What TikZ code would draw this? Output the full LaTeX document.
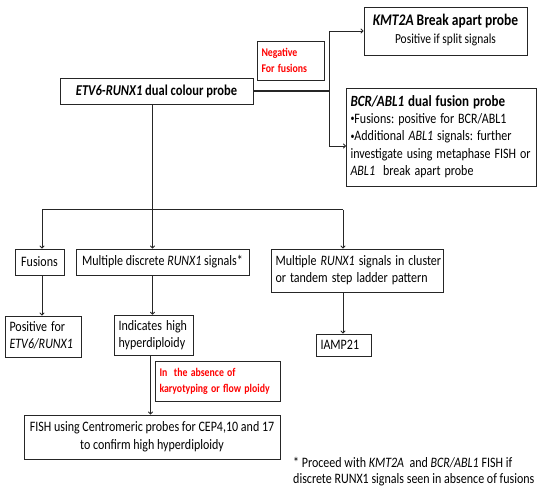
\documentclass[tikz,border=0pt]{standalone}
\usepackage{fontspec}
\usepackage{graphicx}
\setmainfont{Carlito}
\frenchspacing
\usetikzlibrary{arrows.meta}
\newcommand\vst[1]{\scalebox{1}[1.2]{#1}}
\newcommand\ltab[1]{\vst{\begin{tabular}{@{}l@{}}#1\end{tabular}}}
\newcommand\ctab[1]{\vst{\begin{tabular}{@{}c@{}}#1\end{tabular}}}
\newcommand\sbul{\raisebox{1.6pt}{\fontsize{8}{8}\selectfont\textbullet}}
\begin{document}
\begin{tikzpicture}[x=1pt,y=-1pt,
  box/.style={draw=black!85,line width=1pt,inner sep=3pt,font=\fontsize{12}{14.4}\selectfont},
  lbox/.style={box,align=left,inner xsep=4pt,text width=#1},
  redtxt/.style={text=red,font=\bfseries\fontsize{9.8}{13.5}\selectfont},
  conn/.style={line width=0.9pt,black!85},
  arr/.style={conn,-{To[length=3pt,width=5pt]}}]
\useasboundingbox (0,0) rectangle (538,488);
\node[box,minimum width=193pt,minimum height=26pt,font=\bfseries\fontsize{12.5}{15}\selectfont] (etv) at (156.5,91) {\vst{\textit{ETV6-RUNX1} dual colour probe}};
\node[box,minimum width=163pt,minimum height=48pt] (kmt) at (445.5,31) {\ctab{{\bfseries\fontsize{13.5}{14}\selectfont\textit{KMT2A} Break apart probe}\\[1pt]{\fontsize{11.5}{14}\selectfont Positive if split signals}}};
\node[lbox=59pt,minimum height=38pt,anchor=west,redtxt] (neg) at (257,61) {\ltab{Negative\\For fusions}};
\node[lbox=182pt,minimum height=98pt,anchor=north west] (bcr) at (346,88) {\ltab{{\bfseries\fontsize{13}{14}\selectfont\textit{BCR/ABL1} dual fusion probe}\\\sbul Fusions: positive for BCR/ABL1\\\sbul Additional \textit{ABL1} signals: further\\investigate using metaphase FISH or\\\textit{ABL1}~ break apart probe}};
\node[box,minimum width=49pt,minimum height=26pt] (fus) at (39.5,262) {\vst{Fusions}};
\node[box,minimum width=173pt,minimum height=26pt] (disc) at (162.5,262) {\vst{Multiple discrete \textit{RUNX1} signals*}};
\node[lbox=164pt,minimum height=43pt,anchor=west] (clus) at (271,270.5) {\ltab{Multiple \textit{RUNX1} signals in cluster\\or tandem step ladder pattern}};
\node[lbox=68pt,minimum height=41pt,anchor=west] (pos) at (5,336.5) {\ltab{Positive for\\\textit{ETV6/RUNX1}}};
\node[lbox=71pt,minimum height=39pt,anchor=west] (ind) at (114,335.5) {\ltab{Indicates high\\hyperdiploidy}};
\node[lbox=47pt,minimum height=22pt,anchor=west] (iamp) at (316,345) {\vst{IAMP21}};
\node[lbox=117pt,minimum height=40pt,anchor=west,redtxt] (abs) at (155,381) {\ltab{In~ the absence of\\karyotyping or flow ploidy}};
\node[box,minimum width=256pt,minimum height=44pt] (fish) at (152,437) {\ctab{FISH using Centromeric probes for CEP4,10 and 17\\to confirm high hyperdiploidy}};
\node[anchor=west,inner sep=0pt,font=\fontsize{12}{13.4}\selectfont] (note) at (293,472) {\ltab{* Proceed with \textit{KMT2A}~ and \textit{BCR/ABL1} FISH if\\discrete RUNX1 signals seen in absence of fusions}};
% connectors
\coordinate (j) at (329,91);
\coordinate (jt) at (329,31);
\coordinate (jb) at (329,146);
\draw[conn,line width=1.8pt] (etv.east |- j) -- (j);
\draw[conn] (jt) -- (jb);
\draw[arr] (jt) -- (kmt.west |- jt);
\draw[arr] (jb) -- (bcr.west |- jb);
\coordinate (b) at (152.5,209.5);
\coordinate (bl) at (42,209.5);
\coordinate (br) at (343,209.5);
\draw[conn] (etv.south -| b) -- (b);
\draw[conn] (bl) -- (br);
\draw[arr] (bl) -- (fus.north -| bl);
\draw[arr] (b) -- (disc.north -| b);
\draw[arr] (br) -- (clus.north -| br);
\draw[arr] (fus.south -| bl) -- (pos.north -| bl);
\draw[arr] (disc.south -| b) -- (ind.north -| b);
\draw[arr] (clus.south -| br) -- (iamp.north -| br);
\coordinate (c) at (150.5,0);
\draw[arr] (ind.south -| c) -- (fish.north -| c);
\end{tikzpicture}
\end{document}
